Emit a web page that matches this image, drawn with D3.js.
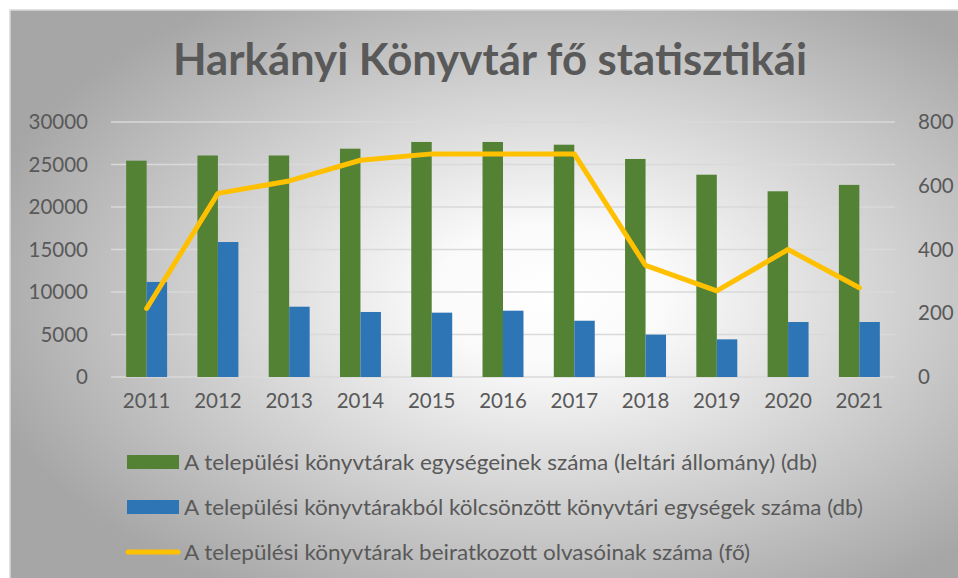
<!DOCTYPE html>
<html>
<head>
<meta charset="utf-8">
<script src="https://cdn.jsdelivr.net/npm/d3@7"></script>
<style>
  body { margin: 0; background: #ffffff; }
  svg { display: block; }
  text { font-family: Lato, "Open Sans", sans-serif; fill: #595959; }
</style>
</head>
<body>
<div id="chart"></div>
<script>
// data
var years = ["2011", "2012", "2013", "2014", "2015", "2016", "2017", "2018", "2019", "2020", "2021"];
var allomany = [25450, 26060, 26060, 26860, 27650, 27650, 27330, 25650, 23800, 21850, 22600];
var kolcsonzott = [11180, 15880, 8270, 7650, 7570, 7800, 6620, 4980, 4430, 6470, 6470];
var olvasok = [215, 576, 615, 680, 700, 700, 700, 350, 270, 400, 280];
var leftTicks = [0, 5000, 10000, 15000, 20000, 25000, 30000];
var rightTicks = [0, 200, 400, 600, 800];
var seriesNames = [
  "A települési könyvtárak egységeinek száma (leltári állomány) (db)",
  "A települési könyvtárakból kölcsönzött könyvtári egységek száma (db)",
  "A települési könyvtárak beiratkozott olvasóinak száma (fő)"
];
var colors = ["#548235", "#2E75B6", "#FFC000"];

var svgWidth = 958;
var svgHeight = 578;

var margin = { top: 122, right: 63, bottom: 201, left: 111 };
var width = svgWidth - margin.left - margin.right;
var height = svgHeight - margin.top - margin.bottom;

var svg = d3.select("#chart")
  .append("svg")
  .attr("width", svgWidth)
  .attr("height", svgHeight);

// radial grey background
var defs = svg.append("defs");
var grad = defs.append("radialGradient")
  .attr("id", "bg")
  .attr("cx", "57%")
  .attr("cy", "50%")
  .attr("r", "62%");
grad.append("stop").attr("offset", "0%").attr("stop-color", "#ffffff");
grad.append("stop").attr("offset", "20%").attr("stop-color", "#fafafa");
grad.append("stop").attr("offset", "100%").attr("stop-color", "#a6a6a6");

svg.append("rect")
  .attr("x", 10)
  .attr("y", 10)
  .attr("width", svgWidth - 9)
  .attr("height", svgHeight - 9)
  .attr("fill", "url(#bg)")
  .attr("stroke", "#d9d9d9")
  .attr("stroke-width", 1.5);

// title
svg.append("text")
  .attr("x", 173)
  .attr("y", 75)
  .attr("font-size", 43)
  .attr("font-weight", 700)
  .attr("textLength", 634)
  .attr("lengthAdjust", "spacingAndGlyphs")
  .text("Harkányi Könyvtár fő statisztikái");

var chartGroup = svg.append("g")
  .attr("transform", `translate(${margin.left}, ${margin.top})`);

// scales
var x0 = d3.scaleBand()
  .domain(years)
  .range([0, width]);

var x1 = d3.scaleBand()
  .domain([0, 1])
  .range([0, x0.bandwidth()])
  .paddingOuter(0.74);

var yLeft = d3.scaleLinear()
  .domain([0, 30000])
  .range([height, 0]);

var yRight = d3.scaleLinear()
  .domain([0, 800])
  .range([height, 0]);

// gridlines
chartGroup.append("g")
  .selectAll("line")
  .data(leftTicks)
  .enter()
  .append("line")
  .attr("x1", 0)
  .attr("x2", width)
  .attr("y1", d => yLeft(d))
  .attr("y2", d => yLeft(d))
  .attr("stroke", "#d9d9d9")
  .attr("stroke-width", 1.5);

// axes
var leftAxis = d3.axisLeft(yLeft).tickValues(leftTicks).tickFormat(d3.format("d")).tickSize(0).tickPadding(23);
var rightAxis = d3.axisRight(yRight).tickValues(rightTicks).tickFormat(d3.format("d")).tickSize(0).tickPadding(23);
var bottomAxis = d3.axisBottom(x0).tickSize(0).tickPadding(16);

var gl = chartGroup.append("g").call(leftAxis);
var gr = chartGroup.append("g").attr("transform", `translate(${width}, 0)`).call(rightAxis);
var gb = chartGroup.append("g").attr("transform", `translate(0, ${height})`).call(bottomAxis);

[gl, gr, gb].forEach(function(g) {
  g.select(".domain").remove();
  g.selectAll("text")
    .attr("font-family", "Lato, sans-serif")
    .attr("font-size", 20.5)
    .attr("fill", "#595959");
});

// bars
var barData = [allomany, kolcsonzott];
barData.forEach(function(vals, s) {
  chartGroup.append("g")
    .selectAll("rect")
    .data(vals)
    .enter()
    .append("rect")
    .attr("x", (d, i) => x0(years[i]) + x1(s))
    .attr("y", d => yLeft(d))
    .attr("width", x1.bandwidth())
    .attr("height", d => height - yLeft(d))
    .attr("fill", colors[s]);
});

// line
var line = d3.line()
  .x((d, i) => x0(years[i]) + x0.bandwidth() / 2)
  .y(d => yRight(d));

chartGroup.append("path")
  .datum(olvasok)
  .attr("d", line)
  .attr("fill", "none")
  .attr("stroke", colors[2])
  .attr("stroke-width", 5)
  .attr("stroke-linejoin", "round")
  .attr("stroke-linecap", "round");

// legend
var legend = svg.append("g").attr("transform", "translate(127, 462)");
var targets = [633, 679, 566];

seriesNames.forEach(function(name, i) {
  var row = legend.append("g").attr("transform", `translate(0, ${i * 45})`);
  if (i < 2) {
    row.append("rect")
      .attr("x", 0)
      .attr("y", -7)
      .attr("width", 52)
      .attr("height", 14)
      .attr("fill", colors[i]);
  } else {
    row.append("line")
      .attr("x1", 1)
      .attr("x2", 51)
      .attr("y1", 0)
      .attr("y2", 0)
      .attr("stroke", colors[i])
      .attr("stroke-width", 5)
      .attr("stroke-linecap", "round");
  }
  row.append("text")
    .attr("x", 57)
    .attr("y", 7.5)
    .attr("font-size", 20.5)
    .attr("textLength", targets[i])
    .attr("lengthAdjust", "spacingAndGlyphs")
    .text(name);
});
</script>
</body>
</html>
